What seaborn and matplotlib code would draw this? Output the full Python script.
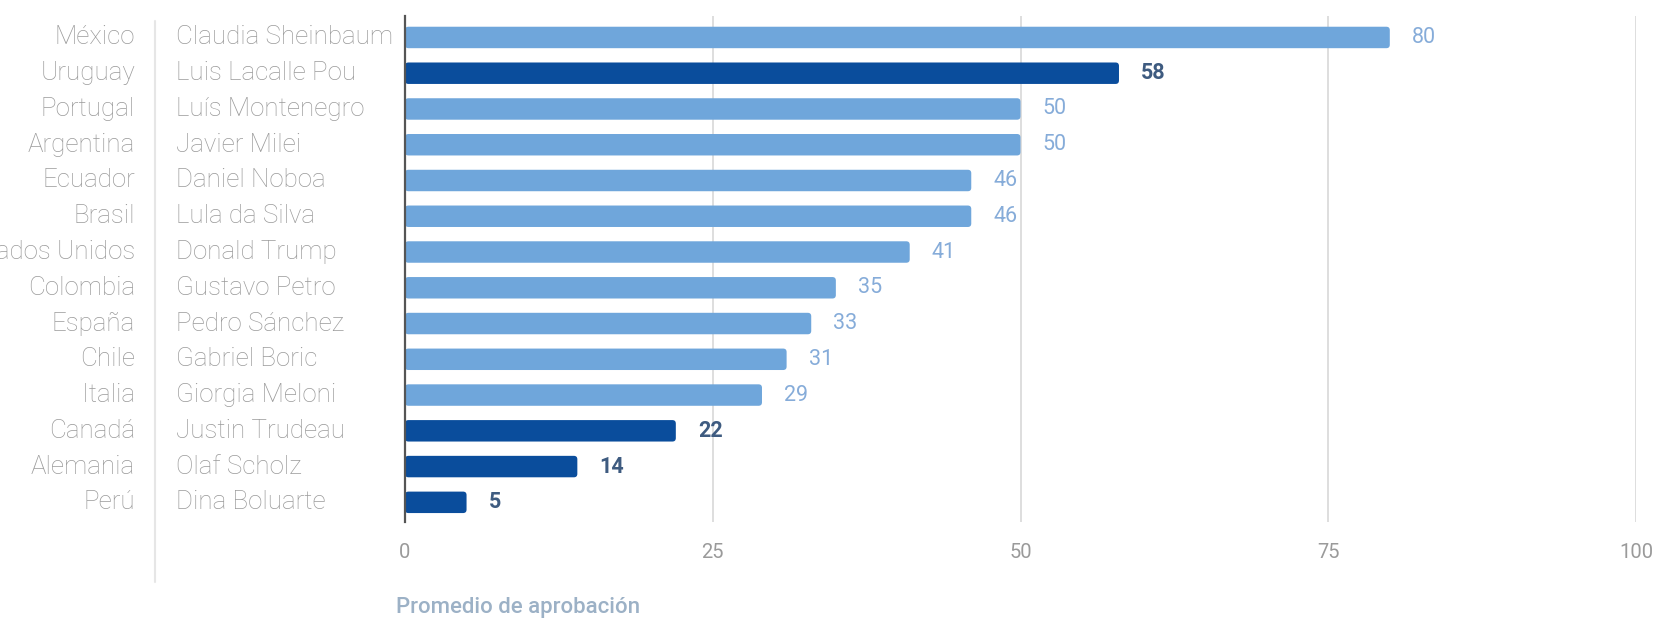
import matplotlib
matplotlib.use("Agg")
import matplotlib.pyplot as plt
import matplotlib.transforms as mtransforms
from matplotlib.lines import Line2D
from matplotlib.patches import FancyBboxPatch
import seaborn as sns
import pandas as pd

# Approval data
countries = ["México", "Uruguay", "Portugal", "Argentina", "Ecuador", "Brasil",
             "Estados Unidos", "Colombia", "España", "Chile", "Italia", "Canadá",
             "Alemania", "Perú"]
leaders = ["Claudia Sheinbaum", "Luis Lacalle Pou", "Luís Montenegro", "Javier Milei",
           "Daniel Noboa", "Lula da Silva", "Donald Trump", "Gustavo Petro",
           "Pedro Sánchez", "Gabriel Boric", "Giorgia Meloni", "Justin Trudeau",
           "Olaf Scholz", "Dina Boluarte"]
approval = [80, 58, 50, 50, 46, 46, 41, 35, 33, 31, 29, 22, 14, 5]
highlight = [False, True, False, False, False, False, False, False, False, False,
             False, True, True, True]
x_ticks = [0, 25, 50, 75, 100]
x_label = "Promedio de aprobación"

LIGHT = "#6fa6db"
DARK = "#0a4d9c"
LIGHT_TXT = "#86acd9"
DARK_TXT = "#3e5b80"
GREY_TXT = "#9a9a9a"

df = pd.DataFrame({
    "leader": leaders,
    "country": countries,
    "approval": approval,
    "group": ["dark" if h else "light" for h in highlight],
})

sns.set_theme(style="white")
plt.rcParams["font.family"] = ["Roboto", "DejaVu Sans"]

W, H = 1671, 621
fig = plt.figure(figsize=(W / 100, H / 100), dpi=100)
ax = fig.add_axes([405 / W, 99 / H, 1231 / W, 506 / H])

sns.barplot(data=df, x="approval", y="leader", hue="group",
            palette={"light": LIGHT, "dark": DARK}, dodge=False,
            legend=False, width=0.6, orient="h", saturation=1, ax=ax)

ax.set_xlim(0, 100)
ax.set_ylim(len(leaders) - 0.45, -0.6)

# Round the bar corners slightly
bars = list(ax.patches)
for p in bars:
    x0, y0 = p.get_x(), p.get_y()
    w, h = p.get_width(), p.get_height()
    fc = p.get_facecolor()
    p.remove()
    fb = FancyBboxPatch((x0, y0), w, h,
                        boxstyle="round,pad=0,rounding_size=0.28",
                        mutation_aspect=0.343, facecolor=fc,
                        edgecolor="none", zorder=2)
    ax.add_patch(fb)

# Grid and axis line
for t in x_ticks[1:]:
    ax.axvline(t, color="#dedede", lw=1.4, zorder=0)
for s in ["top", "right", "bottom"]:
    ax.spines[s].set_visible(False)
ax.spines["left"].set_color("#555555")
ax.spines["left"].set_linewidth(1.6)
ax.spines["left"].set_zorder(3)

ax.set_xticks(x_ticks)
ax.set_xticklabels([str(t) for t in x_ticks])
ax.tick_params(axis="x", length=0, pad=15, labelsize=14.5, labelcolor="#9a9a9a")
ax.set_yticks([])
ax.set_xlabel("")
ax.set_ylabel("")

# Value labels
for i, (v, h) in enumerate(zip(approval, highlight)):
    ax.text(v + 1.8, i, str(v), va="center", ha="left",
            fontsize=15.5, color=DARK_TXT if h else LIGHT_TXT,
            fontweight="bold" if h else "normal")

# Leader and country columns
trans = mtransforms.blended_transform_factory(fig.transFigure, ax.transData)
for i, (c, l) in enumerate(zip(countries, leaders)):
    ax.text(176 / W, i, l, transform=trans, ha="left", va="center",
            fontsize=18.7, color=GREY_TXT, fontweight="light", clip_on=False)
    ax.text(135 / W, i, c, transform=trans, ha="right", va="center",
            fontsize=18.7, color=GREY_TXT, fontweight="light", clip_on=False)

# Separator between country and leader columns
fig.add_artist(Line2D([155 / W, 155 / W], [1 - 21 / H, 1 - 582 / H],
                      transform=fig.transFigure, color="#e6e6e6", lw=1.5))

fig.text(396 / W, 1 - 607 / H, x_label, ha="left", va="center",
         fontsize=16, color="#9cb1c6", fontweight="medium")

fig.savefig("out.png", dpi=100, facecolor="white")
